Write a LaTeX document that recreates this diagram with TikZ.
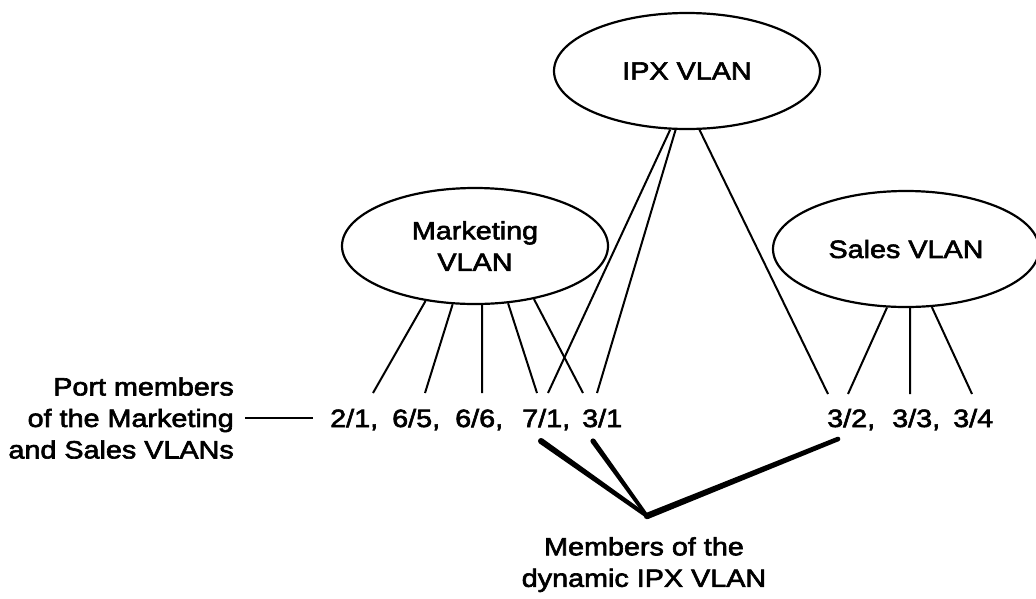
\documentclass[tikz,border=0pt]{standalone}
\usepackage{fontspec}
\setmainfont{Liberation Sans}[FakeStretch=1.15,FakeBold=2.5]
\usetikzlibrary{shapes.geometric,calc}

% Hand-drawn pointer: a filled stroke from #1 to #2, half-widths #3 and #4
\newcommand\brushstroke[4]{%
  \fill (#1) circle[radius=#3] (#2) circle[radius=#4];
  \fill ($(#1)!#3!90:(#2)$) -- ($(#2)!#4!-90:(#1)$)
     -- ($(#2)!#4!90:(#1)$) -- ($(#1)!#3!-90:(#2)$) -- cycle;}

\begin{document}
\begin{tikzpicture}[x=1pt,y=-1pt,
  txt/.style={inner sep=0pt, font=\fontsize{25}{31.5}\selectfont},
  vlan/.style={txt, draw, line width=2.2pt, ellipse, align=center,
    minimum width=266pt, minimum height=116pt},
  port/.style={txt, anchor=base west},
  link/.style={line width=2pt}]
\fill[white] (0,0) rectangle (1036,598);
\useasboundingbox (0,0) rectangle (1036,598);

% VLANs
\node[vlan] (ipx)   at (687,71)  {IPX VLAN};
\node[vlan] (mkt)   at (475,246) {Marketing\\VLAN};
\node[vlan] (sales) at (906,249) {Sales VLAN};

% ports
\node[port] (p21) at (330,427) {2/1,};
\node[port] (p65) at (392,427) {6/5,};
\node[port] (p66) at (455,427) {6/6,};
\node[port] (p71) at (522,427) {7/1,};
\node[port] (p31) at (582,427) {3/1};
\node[port] (p32) at (827,427) {3/2,};
\node[port] (p33) at (892,427) {3/3,};
\node[port] (p34) at (953,427) {3/4};

% line ends just above the port numbers
\coordinate (e21)  at (373,393);
\coordinate (e65)  at (425,393);
\coordinate (e66)  at (482,393);
\coordinate (e71m) at (537,393);
\coordinate (e71i) at (548,393);
\coordinate (e31m) at (583,393);
\coordinate (e31i) at (597,393);
\coordinate (e32i) at (828,394);
\coordinate (e32s) at (848,394);
\coordinate (e33)  at (910,394);
\coordinate (e34)  at (972,394);

% Marketing VLAN members
\draw[link] (mkt.228) -- (e21);
\draw[link] (mkt.249) -- (e65);
\draw[link] (mkt.277) -- (e66);
\draw[link] (mkt.300) -- (e71m);
\draw[link] (mkt.318) -- (e31m);

% IPX VLAN members
\draw[link] (ipx.254) -- (e71i);
\draw[link] (ipx.259) -- (e31i);
\draw[link] (ipx.282) -- (e32i);

% Sales VLAN members
\draw[link] (sales.252) -- (e32s);
\draw[link] (sales.274) -- (e33);
\draw[link] (sales.294) -- (e34);

% left caption
\node[txt, anchor=east, align=right] (lbl) at (234,418)
  {Port members\\of the Marketing\\and Sales VLANs};
\draw[line width=2.5pt, shorten <=11pt, shorten >=17pt]
  (lbl.east) -- (p21.west |- lbl.east);

% bottom caption with its pointers
\node[txt, anchor=north, align=center] (dyn) at (644,537)
  {Members of the\\dynamic IPX VLAN};
\coordinate (apex) at (647,516);
\coordinate (m71) at (541,441);
\coordinate (m31) at (593,441);
\coordinate (m32) at (838,439);
\brushstroke{m71}{apex}{3pt}{2pt}
\brushstroke{m31}{apex}{2.6pt}{1.8pt}
\brushstroke{m32}{apex}{2.3pt}{3.2pt}
\end{tikzpicture}
\end{document}
